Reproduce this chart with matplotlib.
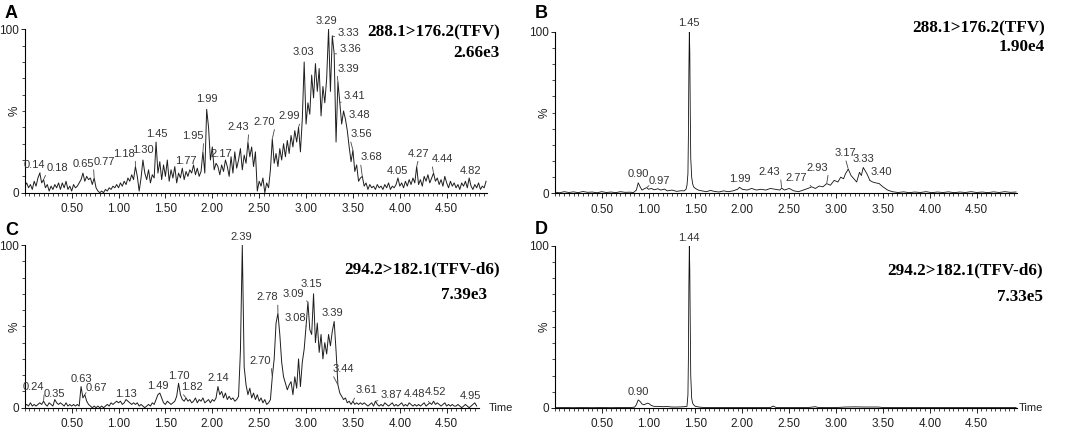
import numpy as np
import matplotlib
matplotlib.use("Agg")
import matplotlib.pyplot as plt
from matplotlib.ticker import MultipleLocator, FixedLocator, NullFormatter

W, H = 1072, 429
STEP = 0.02  # acquisition step (min) of the noisy traces A and C

# ---------------- data ----------------
# Panel A: 288.1>176.2 (TFV), blank, relative intensity (%)
a_int = [4, 6, 3, 5, 2, 7, 4, 9, 12, 6,
         8, 3, 5, 1, 4, 2, 5, 3, 6, 2,
         6, 3, 7, 2, 4, 1, 5, 3, 4, 6,
         8, 12, 7, 10, 8, 9, 5, 9, 3, 1,
         0, 1, 0, 2, 1, 3, 2, 4, 3, 5,
         3, 6, 4, 7, 5, 9, 7, 11, 8, 16,
         10, 1, 9, 20, 12, 8, 14, 6, 11, 9,
         31, 12, 19, 8, 17, 10, 20, 7, 14, 9,
         16, 6, 12, 9, 15, 8, 13, 10, 14, 12,
         17, 11, 15, 10, 13, 25, 12, 51, 40, 20,
         28, 14, 18, 16, 11, 17, 13, 20, 16, 10,
         22, 12, 25, 15, 20, 27, 14, 23, 18, 31,
         22, 28, 16, 25, 1, 7, 4, 9, 0, 6,
         3, 14, 33, 18, 24, 16, 27, 20, 30, 22,
         32, 24, 35, 28, 38, 31, 40, 25, 45, 80,
         42, 55, 48, 72, 58, 79, 62, 76, 47, 65,
         55, 70, 100, 62, 96, 85, 31, 68, 55, 42,
         50, 45, 38, 28, 19, 26, 13, 17, 7, 9,
         10, 4, 6, 2, 5, 3, 4, 2, 5, 3,
         4, 2, 5, 3, 6, 2, 4, 3, 5, 9,
         4, 6, 3, 7, 4, 8, 5, 9, 6, 16,
         5, 8, 4, 10, 7, 11, 6, 9, 12, 7,
         9, 5, 8, 4, 10, 6, 3, 7, 4, 6,
         3, 5, 2, 6, 4, 7, 3, 9, 4, 2,
         5, 3, 6, 2, 4, 3, 7]
a_labels = ["0.14", "0.18", "0.65", "0.77", "1.18", "1.30", "1.45", "1.77", "1.95",
            "1.99", "2.17", "2.43", "2.70", "2.99", "3.03", "3.29", "3.33", "3.36",
            "3.39", "3.41", "3.48", "3.56", "3.68", "4.05", "4.27", "4.44", "4.82"]
a_peak_idx = [8, 10, 31, 37, 59, 63, 70, 84, 95, 97, 105, 119, 132, 146, 149, 162,
              164, 165, 167, 168, 171, 175, 180, 199, 209, 218, 237]

# Panel B: 288.1>176.2 (TFV), sample
b_time = [0.00, 0.05, 0.10, 0.15, 0.20, 0.25, 0.30, 0.35, 0.40, 0.45, 0.50, 0.55, 0.60,
          0.65, 0.70, 0.75, 0.80, 0.84, 0.87, 0.89, 0.91, 0.93, 0.96, 0.98, 1.00, 1.03,
          1.06, 1.10, 1.13, 1.17, 1.20, 1.25, 1.30, 1.35, 1.38, 1.40, 1.41, 1.42, 1.425,
          1.43, 1.435, 1.44, 1.445, 1.45, 1.46, 1.47, 1.48, 1.50, 1.53, 1.57, 1.62, 1.66,
          1.70, 1.75, 1.80, 1.85, 1.90, 1.95, 1.97, 2.00, 2.05, 2.10, 2.15, 2.20, 2.25,
          2.30, 2.35, 2.40, 2.42, 2.45, 2.50, 2.55, 2.60, 2.65, 2.70, 2.74, 2.78, 2.82,
          2.86, 2.90, 2.94, 2.98, 3.02, 3.05, 3.08, 3.10, 3.13, 3.16, 3.19, 3.22, 3.25,
          3.27, 3.29, 3.31, 3.33, 3.36, 3.39, 3.42, 3.46, 3.50, 3.55, 3.60, 3.66, 3.72,
          3.78, 3.84, 3.90, 3.96, 4.02, 4.08, 4.14, 4.20, 4.26, 4.32, 4.38, 4.44, 4.50,
          4.56, 4.62, 4.68, 4.74, 4.80, 4.86, 4.92]
b_int = [0.8, 0.3, 1.0, 0.5, 0.9, 0.4, 1.1, 0.6, 0.8, 0.3, 1.0, 0.5, 0.8,
         0.4, 1.0, 0.6, 0.7, 0.5, 2.0, 6.5, 4.0, 2.0, 3.0, 3.5, 2.5, 3.0,
         2.2, 2.8, 2.0, 2.6, 1.5, 2.0, 1.2, 1.6, 1.5, 2.5, 5.0, 12, 35,
         75, 100, 88, 50, 22, 10, 6, 4, 3, 2, 1.5, 1.0, 1.8,
         1.2, 0.8, 1.5, 1.0, 1.5, 2.5, 3.7, 2.5, 2.0, 3.0, 2.0, 2.5, 2.0,
         3.0, 2.5, 2.0, 3.2, 2.0, 3.0, 1.5, 1.0, 2.0, 3.0, 4.0, 3.0, 4.5,
         4.0, 6.0, 5.0, 8.0, 7.0, 10, 9, 12, 15, 11, 9, 7, 13,
         11, 16, 14, 12, 8, 7, 6.5, 6.0, 4.0, 2.0, 1.0, 0.5, 0.9,
         0.4, 0.8, 0.5, 1.0, 0.4, 0.8, 0.5, 0.9, 0.4, 0.8, 0.5, 1.0, 0.5,
         0.8, 0.4, 0.9, 0.5, 1.0, 0.6, 0.8]
b_labels = ["0.90", "0.97", "1.45", "1.99", "2.43", "2.77", "2.93", "3.17", "3.33", "3.40"]
b_peak_t = [0.89, 0.98, 1.435, 1.97, 2.42, 2.74, 2.90, 3.13, 3.29, 3.36]

# Panel C: 294.2>182.1 (TFV-d6), blank
c_int = [1, 2, 1, 3, 1, 2, 1, 2, 3, 2,
         4, 2, 1, 3, 2, 1, 5, 3, 2, 3,
         2, 1, 3, 1, 2, 1, 2, 1, 2, 1,
         13, 6, 8, 4, 2, 1, 0, 1, 0, 1,
         0, 1, 0, 1, 2, 1, 3, 2, 3, 4,
         3, 4, 2, 3, 5, 4, 3, 2, 3, 2,
         3, 1, 2, 1, 0, 1, 2, 1, 3, 2,
         5, 8, 9, 6, 3, 2, 4, 3, 2, 3,
         4, 7, 15, 8, 5, 4, 6, 4, 5, 3,
         4, 6, 3, 5, 4, 6, 3, 4, 5, 3,
         5, 4, 6, 13, 8, 10, 6, 9, 5, 7,
         5, 6, 4, 5, 7, 35, 100, 25, 14, 8,
         12, 6, 9, 5, 8, 4, 6, 3, 5, 2,
         3, 5, 19, 30, 52, 58, 45, 28, 19, 15,
         11, 14, 16, 8, 19, 12, 30, 13, 28, 36,
         50, 65, 48, 45, 70, 40, 52, 34, 45, 30,
         40, 33, 45, 38, 47, 53, 35, 14, 9, 7,
         5, 6, 3, 4, 2, 4, 2, 3, 2, 3,
         2, 3, 2, 1, 2, 3, 1, 4, 2, 1,
         2, 1, 3, 2, 1, 2, 3, 1, 2, 1,
         2, 3, 1, 2, 1, 3, 2, 1, 2, 1,
         2, 1, 2, 3, 1, 2, 3, 2, 4, 2,
         3, 2, 1, 2, 3, 1, 2, 1, 2, 1,
         1, 2, 1, 0, 1, 2, 1, 0, 1, 2,
         3, 1]
c_labels = ["0.24", "0.35", "0.63", "0.67", "1.13", "1.49", "1.70", "1.82", "2.14", "2.39",
            "2.70", "2.78", "3.08", "3.09", "3.15", "3.39", "3.44", "3.61", "3.87", "4.48",
            "4.52", "4.95"]
c_peak_idx = [10, 16, 30, 32, 54, 72, 82, 86, 103, 116, 132, 135, 150, 151, 154, 165,
              167, 175, 187, 216, 218, 240]

# Panel D: 294.2>182.1 (TFV-d6), sample
d_time = [0.00, 0.10, 0.20, 0.30, 0.40, 0.50, 0.60, 0.70, 0.80, 0.85, 0.87, 0.89, 0.91,
          0.93, 0.95, 0.97, 0.99, 1.01, 1.03, 1.06, 1.10, 1.15, 1.20, 1.25, 1.30, 1.35,
          1.38, 1.41, 1.42, 1.425, 1.43, 1.435, 1.44, 1.445, 1.45, 1.46, 1.47, 1.48, 1.50,
          1.55, 1.60, 1.80, 2.00, 2.20, 2.30, 2.33, 2.36, 2.60, 2.70, 2.75, 2.78, 2.81,
          3.00, 3.10, 3.20, 3.30, 3.45, 3.50, 3.80, 4.10, 4.40, 4.70, 4.92]
d_int = [0.2, 0.3, 0.2, 0.3, 0.2, 0.3, 0.2, 0.3, 0.3, 0.5, 2.0, 5.0, 4.0,
         2.5, 2.0, 2.5, 3.0, 2.5, 1.5, 1.0, 1.0, 0.8, 0.9, 0.6, 0.6, 0.7,
         0.8, 1.0, 8.0, 30, 75, 100, 85, 50, 20, 6, 3, 2, 1.0,
         0.5, 0.3, 0.3, 0.3, 0.3, 0.3, 1.2, 0.3, 0.3, 0.3, 0.6, 0.8, 0.3,
         0.3, 0.6, 0.7, 0.6, 0.6, 0.3, 0.3, 0.3, 0.3, 0.3, 0.3]
d_labels = ["0.90", "1.44"]
d_peak_t = [0.89, 1.435]

x_tick_vals = [0.5, 1.0, 1.5, 2.0, 2.5, 3.0, 3.5, 4.0, 4.5]
titles = ["288.1>176.2(TFV)", "288.1>176.2(TFV)", "294.2>182.1(TFV-d6)", "294.2>182.1(TFV-d6)"]
scales = ["2.66e3", "1.90e4", "7.39e3", "7.33e5"]
panel_letters = ["A", "B", "C", "D"]

# ---------------- layout (pixels) ----------------
PX_PER_MIN = 93.75
LBL_FONT = ["Liberation Sans Narrow", "Liberation Sans", "DejaVu Sans"]
TICK_FONT = ["Liberation Sans", "DejaVu Sans"]

# label offsets: (dx, dy) in pixels from peak to text bottom-centre
a_off = [(-5, 3), (14, 7), (0, 4), (10, 11), (-11, 8), (0, 5), (1, 3), (4, 2), (-10, 11),
         (0, 5), (0, 6), (-10, 10), (-8, 12), (-9, 6), (-1, 5), (-2, 3), (16, -2), (16, 0),
         (10, 8), (15, 2), (14, -1), (8, 11), (9, 14), (0, 2), (2, 8), (9, 9), (1, 2)]
b_off = [(0, 4), (13, 2), (0, 4), (0, 3), (-12, 11), (-15, 4), (-9, 11), (-3, 11), (0, 3), (12, 3)]
c_off = [(-10, 9), (0, 1), (0, 3), (12, 2), (0, 1), (-2, 2), (0, 2), (6, 6), (0, 4), (-1, 3),
         (-12, 11), (-11, 11), (-11, 3), (-15, 3), (-2, 5), (-2, 3), (5, 11), (14, 6), (16, 1),
         (-15, 4), (2, 4), (-4, 2)]
d_off = [(0, 3), (0, 3)]

fig = plt.figure(figsize=(W / 100, H / 100), dpi=100)


def make_axes(x0, y_top, y_bottom, xmax):
    w = xmax * PX_PER_MIN
    ax = fig.add_axes([x0 / W, 1 - y_bottom / H, w / W, (y_bottom - y_top) / H])
    ax.set_xlim(0, xmax)
    ax.set_ylim(0, 100)
    for s in ("top", "right"):
        ax.spines[s].set_visible(False)
    for s in ("left", "bottom"):
        ax.spines[s].set_linewidth(0.8)
    ax.xaxis.set_major_locator(FixedLocator(x_tick_vals))
    ax.set_xticklabels(["%.2f" % v for v in x_tick_vals], fontfamily=TICK_FONT, fontsize=8.5,
                       color="#222222")
    ax.xaxis.set_minor_locator(MultipleLocator(0.05))
    ax.yaxis.set_major_locator(FixedLocator([0, 100]))
    ax.set_yticklabels(["0", "100"], fontfamily=TICK_FONT, fontsize=8.5, color="#222222")
    ax.yaxis.set_minor_locator(MultipleLocator(10))
    ax.yaxis.set_minor_formatter(NullFormatter())
    ax.tick_params(axis="x", which="major", length=3.5, width=0.6, pad=4)
    ax.tick_params(axis="x", which="minor", length=2, width=0.5)
    ax.tick_params(axis="y", which="major", length=3, width=0.6, pad=1)
    ax.tick_params(axis="y", which="minor", length=2, width=0.5)
    ax.set_ylabel("%", fontfamily=TICK_FONT, fontsize=8.5, color="#222222",
                  va="center", ha="center")
    ax.yaxis.set_label_coords(-10.0 / w, 0.5)
    ax.patch.set_alpha(0)
    return ax


def label_peaks(ax, t, v, labels, idx, offs):
    for lab, i, (dx, dy) in zip(labels, idx, offs):
        leader = abs(dx) >= 5 or dy >= 8
        kw = {}
        if leader:
            rel = (0.0, 0.0) if dx > 0 else (1.0, 0.0)
            if abs(dx) < 5:
                rel = (0.5, 0.0)
            kw["arrowprops"] = dict(arrowstyle="-", lw=0.6, color="#444444",
                                    shrinkA=0, shrinkB=0.5, relpos=rel)
        ax.annotate(lab, xy=(t[i], v[i]), xytext=(dx, dy), textcoords="offset pixels",
                    ha="center", va="bottom", fontsize=8, fontfamily=LBL_FONT,
                    color="#333333", annotation_clip=False, **kw)


# Panel A
axA = make_axes(24.8, 29.3, 192.7, 4.93)
a_time = np.arange(len(a_int)) * STEP
axA.plot(a_time, a_int, color="#1e1e1e", lw=0.7)
label_peaks(axA, a_time, a_int, a_labels, a_peak_idx, a_off)

# Panel B
axB = make_axes(554.8, 31.7, 193.3, 4.93)
axB.plot(b_time, b_int, color="#111111", lw=0.6)
label_peaks(axB, b_time, b_int, b_labels, [b_time.index(p) for p in b_peak_t], b_off)

# Panel C
axC = make_axes(24.8, 245.0, 407.7, 4.84)
c_time = np.arange(len(c_int)) * STEP
axC.plot(c_time, c_int, color="#1e1e1e", lw=0.7)
label_peaks(axC, c_time, c_int, c_labels, c_peak_idx, c_off)

# Panel D
axD = make_axes(554.8, 245.7, 408.0, 4.93)
axD.plot(d_time, d_int, color="#111111", lw=0.6)
label_peaks(axD, d_time, d_int, d_labels, [d_time.index(p) for p in d_peak_t], d_off)

# "Time" axis names
for x in (489, 1019):
    fig.text(x / W, 1 - 408 / H, "Time", ha="left", va="center", fontsize=8,
             fontfamily=TICK_FONT, color="#222222")

# Trace titles and intensity scales
TITLE_FONT = ["Liberation Serif", "DejaVu Serif"]
title_pos = [((500, 32), (500, 53)), ((1045, 28), (1045, 47)),
             ((500, 269), (487, 295)), ((1043, 270), (1043, 297))]
for (p1, p2), t1, t2 in zip(title_pos, titles, scales):
    fig.text(p1[0] / W, 1 - p1[1] / H, t1, ha="right", va="center", fontsize=12.3,
             fontweight="bold", fontfamily=TITLE_FONT)
    fig.text(p2[0] / W, 1 - p2[1] / H, t2, ha="right", va="center", fontsize=12.3,
             fontweight="bold", fontfamily=TITLE_FONT)

letter_pos = [(5, 13), (535, 13), (5, 230), (535, 229)]
for (x, y), L in zip(letter_pos, panel_letters):
    fig.text(x / W, 1 - y / H, L, ha="left", va="center", fontsize=13, fontweight="bold",
             fontfamily=TICK_FONT)

fig.savefig("out.png", dpi=100, facecolor="white")
